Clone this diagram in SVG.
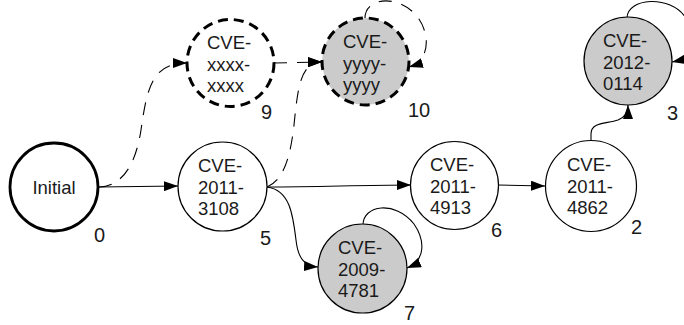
<svg xmlns="http://www.w3.org/2000/svg" width="684" height="325" viewBox="0 0 684 325">
  <defs>
    <marker id="arrow" viewBox="0 0 14 10" refX="14" refY="5" markerWidth="14" markerHeight="10" markerUnits="userSpaceOnUse" orient="auto">
      <path d="M0,0 L14,5 L0,10 Z" fill="#000"/>
    </marker>
    <style>
      .state { fill: #fff; stroke: #000; stroke-width: 1.2; }
      .start { fill: #fff; stroke: #000; stroke-width: 2.8; }
      .hidden { stroke: #000; stroke-width: 3; stroke-dasharray: 10 6; }
      .white { fill: #fff; }
      .grey { fill: #cbcbcb; }
      .lbl { font-family: "Liberation Sans", Arial, sans-serif; font-size: 18.5px; fill: #1a1a1a; }
      .num { font-family: "Liberation Sans", Arial, sans-serif; font-size: 20px; fill: #1a1a1a; }
      .edge { fill: none; stroke: #000; stroke-width: 1.1; marker-end: url(#arrow); }
      .dash { stroke-dasharray: 13 10; }
    </style>
  </defs>

  <g id="connectors">
    <!-- 0 -> 5 -->
    <path class="edge" d="M99 187 L178 186"/>
    <!-- 0 -> 9 (speculative) -->
    <path class="edge dash" d="M99 187 C124 186 136 162 141 130 C147 88 152 63 187 63"/>
    <!-- 9 -> 10 (speculative) -->
    <path class="edge dash" d="M274 63 L322 62"/>
    <!-- 5 -> 10 (speculative) -->
    <path class="edge dash" d="M267 187 C283 180 290 160 294 125 C298 85 301 62 322 62"/>
    <!-- 10 self loop -->
    <path class="edge dash" d="M365 18 C365 -2 396 -6 415 14 C430 30 432 60 409 67"/>
    <!-- 5 -> 6 -->
    <path class="edge" d="M267 187 C320 187 360 185 411 185"/>
    <!-- 5 -> 7 -->
    <path class="edge" d="M267 187 C290 190 293 215 296 240 C298 258 304 266 318 267"/>
    <!-- 7 self loop -->
    <path class="edge" d="M363 225 C363 205 395 200 414 224 C425 240 426 260 407 268"/>
    <!-- 6 -> 2 -->
    <path class="edge" d="M498 185 L545 186"/>
    <!-- 2 -> 3 -->
    <path class="edge" d="M591 140 L591 134 C591 122 606 124 618 120 C626 117 628 112 628 105"/>
    <!-- 3 self loop -->
    <path class="edge" d="M627 18 C627 -2 670 -6 686 18 C696 38 692 58 672 62"/>
  </g>

  <g id="node-0">
    <circle class="start" cx="54" cy="187" r="44"/>
    <text class="lbl" x="54" y="194" text-anchor="middle">Initial</text>
    <text class="num" x="94" y="242">0</text>
  </g>

  <g id="node-5">
    <circle class="state" cx="222.5" cy="186.5" r="44.5"/>
    <text class="lbl" x="198" y="172">CVE-</text>
    <text class="lbl" x="198" y="193.5">2011-</text>
    <text class="lbl" x="198" y="215">3108</text>
    <text class="num" x="260" y="245">5</text>
  </g>

  <g id="node-7">
    <circle class="state grey" cx="362.5" cy="268.5" r="44.5"/>
    <text class="lbl" x="338" y="254">CVE-</text>
    <text class="lbl" x="338" y="275.5">2009-</text>
    <text class="lbl" x="338" y="297">4781</text>
    <text class="num" x="404" y="320">7</text>
  </g>

  <g id="node-6">
    <circle class="state" cx="454.5" cy="185.5" r="44"/>
    <text class="lbl" x="430" y="171">CVE-</text>
    <text class="lbl" x="430" y="192.5">2011-</text>
    <text class="lbl" x="430" y="214">4913</text>
    <text class="num" x="491" y="237">6</text>
  </g>

  <g id="node-2">
    <circle class="state" cx="591" cy="186" r="45.5"/>
    <text class="lbl" x="567" y="171">CVE-</text>
    <text class="lbl" x="567" y="192.5">2011-</text>
    <text class="lbl" x="567" y="214">4862</text>
    <text class="num" x="631" y="234">2</text>
  </g>

  <g id="node-3">
    <circle class="state grey" cx="628" cy="61" r="44"/>
    <text class="lbl" x="603" y="47">CVE-</text>
    <text class="lbl" x="603" y="68.5">2012-</text>
    <text class="lbl" x="603" y="90">0114</text>
    <text class="num" x="667" y="120">3</text>
  </g>

  <g id="node-9">
    <circle class="hidden white" cx="230.5" cy="63" r="43.5"/>
    <text class="lbl" x="207" y="49">CVE-</text>
    <text class="lbl" x="207" y="70.5">xxxx-</text>
    <text class="lbl" x="207" y="92">xxxx</text>
    <text class="num" x="261" y="119">9</text>
  </g>

  <g id="node-10">
    <circle class="hidden grey" cx="365.5" cy="61.5" r="43.5"/>
    <text class="lbl" x="343" y="48">CVE-</text>
    <text class="lbl" x="343" y="69.5">yyyy-</text>
    <text class="lbl" x="343" y="91">yyyy</text>
    <text class="num" x="408" y="117">10</text>
  </g>
</svg>
